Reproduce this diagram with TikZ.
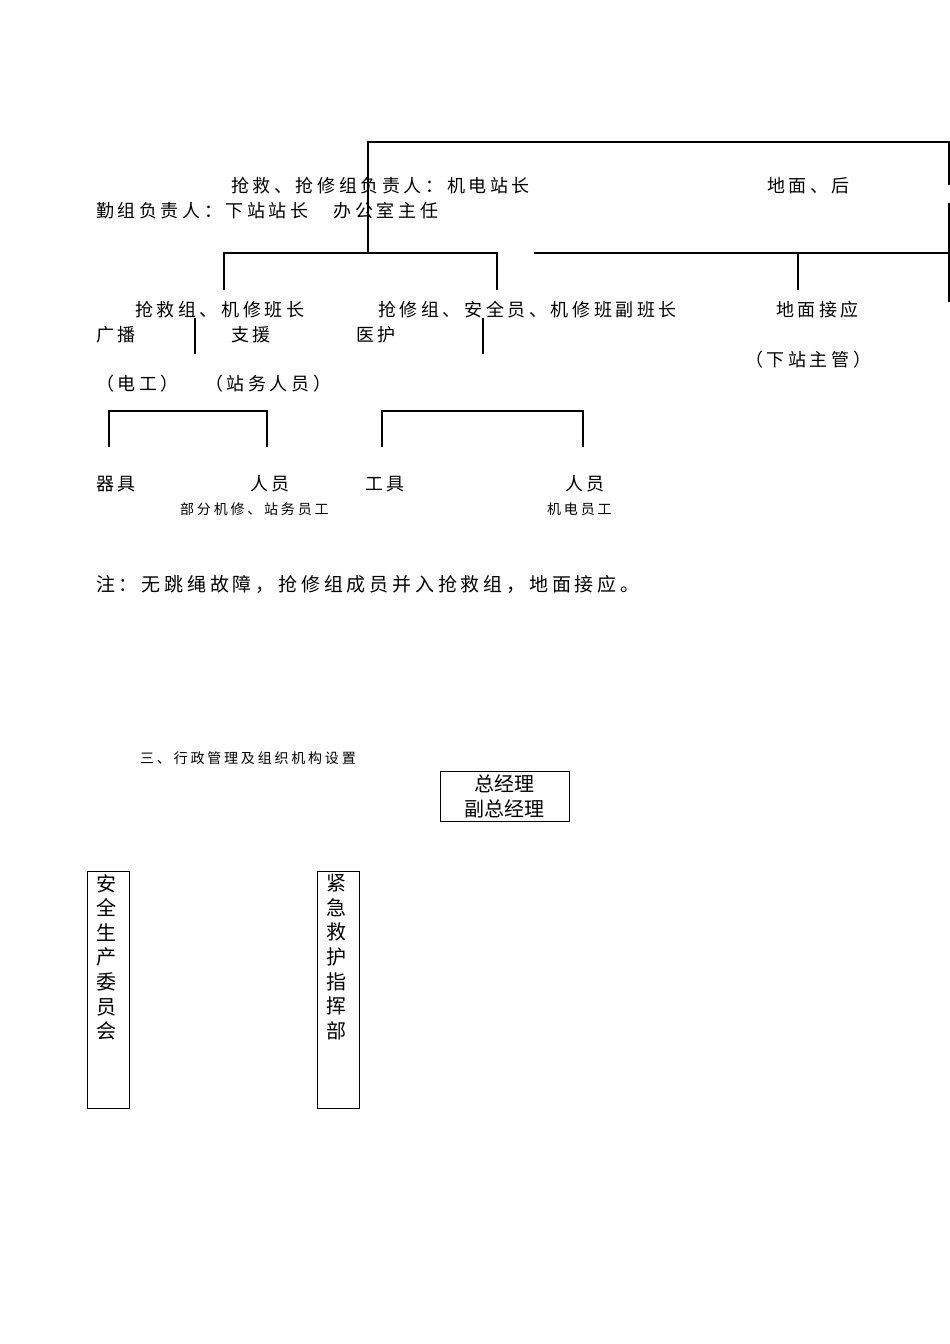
\documentclass[tikz,border=0pt]{standalone}
\usepackage{fontspec}
\newfontfamily\cjk[LetterSpace=20]{Noto Sans CJK SC}
\newfontfamily\cjkn{Noto Sans CJK SC}
\begin{document}
\begin{tikzpicture}[x=1pt,y=-1pt,
  ln/.style={line width=1.1pt,black},
  t/.style={anchor=west,inner sep=0pt,font=\cjk\fontsize{18}{18}\selectfont},
  s/.style={anchor=west,inner sep=0pt,font=\cjk\fontsize{14}{14}\selectfont},
  bx/.style={draw,line width=0.9pt,inner sep=0pt}]
\useasboundingbox[fill=white] (0,0) rectangle (950,1344);
% top bracket
\draw[ln] (368,253) -- (368,142) -- (949,142) -- (949,185);
\draw[ln] (949,203) -- (949,302);
\draw[ln] (224,290) -- (224,253) -- (497,253) -- (497,290);
\draw[ln] (534,253) -- (949,253);
\draw[ln] (798,253) -- (798,290);
\draw[ln] (195,318) -- (195,354);
\draw[ln] (483,318) -- (483,354);
\draw[ln] (109,447) -- (109,411) -- (267,411) -- (267,447);
\draw[ln] (382,447) -- (382,411) -- (583,411) -- (583,447);
% texts
\node[t] (a1) at (231,186) {抢救、抢修组负责人：机电站长};
\node[t] (a2) at (767,186) {地面、后};
\node[t] (a3) at (96,211) {勤组负责人：下站站长　办公室主任};
\node[t] (b1) at (135,310) {抢救组、机修班长};
\node[t] (b2) at (378,310) {抢修组、安全员、机修班副班长};
\node[t] (b3) at (776,310) {地面接应};
\node[t] (c1) at (96,335) {广播};
\node[t] (c2) at (231,335) {支援};
\node[t] (c3) at (356,335) {医护};
\node[t] (c4) at (745,360) {（下站主管）};
\node[t] (d1) at (96,384) {（电工）};
\node[t] (d2) at (205,384) {（站务人员）};
\node[t] (e1) at (96,484) {器具};
\node[t] (e2) at (250,484) {人员};
\node[t] (e3) at (365,484) {工具};
\node[t] (e4) at (565,484) {人员};
\node[s] (f1) at (180,509) {部分机修、站务员工};
\node[s] (f2) at (547,509) {机电员工};
\node[t,font=\cjk\fontsize{19}{19}\selectfont] (n) at (96,584) {注：无跳绳故障，抢修组成员并入抢救组，地面接应。};
\node[s] (h) at (140,758) {三、行政管理及组织机构设置};
% boxes
\draw[line width=0.9pt] (440,771) rectangle (569,821);
\node[inner sep=0pt,align=center,font=\cjkn\fontsize{20}{25}\selectfont] (gm) at (504.5,796) {总经理\\副总经理};
\draw[line width=0.9pt] (87,871) rectangle (129,1108);
\node[anchor=north,inner sep=0pt,align=center,font=\cjkn\fontsize{20}{24.6}\selectfont] (v1) at (106,874) {安\\全\\生\\产\\委\\员\\会};
\draw[line width=0.9pt] (317,871) rectangle (359,1108);
\node[anchor=north,inner sep=0pt,align=center,font=\cjkn\fontsize{20}{24.6}\selectfont] (v2) at (336,874) {紧\\急\\救\\护\\指\\挥\\部};
\end{tikzpicture}
\end{document}
